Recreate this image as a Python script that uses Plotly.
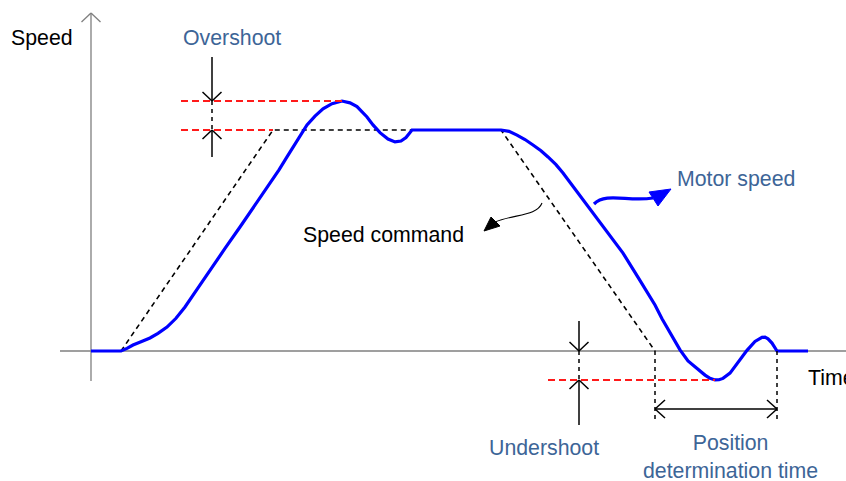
import plotly.graph_objects as go

# ---- data -------------------------------------------------------------
# Motor speed response (time units, speed in % of the commanded speed)
motor_t = [0, 30, 36, 42, 50, 59, 67, 76, 85, 94, 106, 119, 134, 149, 164,
           179, 188, 196, 204, 211, 216, 224, 232, 241, 251, 259, 266, 276,
           282, 289, 297, 304, 310, 315, 318, 321, 410, 418, 426, 434, 442,
           450, 457, 465, 472, 485, 499, 515, 532, 548, 564, 571, 579, 584,
           589, 597, 606, 614, 619, 624, 628, 632, 639, 647, 656, 664, 671,
           674, 677, 681, 686, 717]
motor_v = [0, 0, 1.2, 2.7, 4.2, 5.9, 8.0, 10.8, 14.8, 19.9, 27.9, 36.7, 46.4,
           56.1, 66.0, 76.0, 82.0, 87.8, 93.8, 99.1, 102.3, 106.3, 109.6,
           111.9, 113.1, 112.3, 110.6, 105.9, 102.3, 98.8, 95.9, 94.6, 95.0,
           96.6, 98.3, 100, 100, 99.4, 97.7, 95.7, 93.2, 90.6, 87.8, 84.3,
           80.5, 72.6, 63.8, 54.6, 44.3, 32.6, 20.8, 14.6, 8.1, 4.3, 0.5,
           -4.5, -8.0, -10.9, -12.4, -13.1, -13.0, -12.4, -10.0, -5.4, 0.3,
           4.3, 6.2, 6.3, 5.5, 3.6, 0, 0]

# Speed command (trapezoidal profile)
cmd_t = [30, 182, 410, 564]
cmd_v = [0, 100, 100, 0]

# ---- geometry helpers ---------------------------------------------------
W, H = 846, 481
X0, Y0 = 91, 351          # pixel position of the origin
PX_PER_V = 2.21           # pixels per speed unit
X_RANGE = [-X0, W - X0]
Y_RANGE = [-(H - Y0) / PX_PER_V, Y0 / PX_PER_V]


def dv(pix):
    """Vertical pixel length expressed in speed units."""
    return pix / PX_PER_V


def pt(px, py):
    """Pixel position expressed as a data-space path point."""
    return f"{px - X0},{(Y0 - py) / PX_PER_V}"


peak_v = max(motor_v)
peak_t = motor_t[motor_v.index(peak_v)]
trough_v = min(motor_v)
trough_t = motor_t[motor_v.index(trough_v)]
level = max(cmd_v)
cmd_end = cmd_t[-1]
settle_t = motor_t[-2]

AXIS = "#7f7f7f"
LABEL = "#3d6597"
RED = "#ff1a1a"

shapes = []


def line(x0, y0, x1, y1, color="black", width=1.5, dash="solid",
         layer="above"):
    shapes.append(dict(type="line", x0=x0, y0=y0, x1=x1, y1=y1,
                       line=dict(color=color, width=width, dash=dash),
                       layer=layer))


def chevron_v(x, y, up, color="black", width=1.5, layer="above"):
    back = -dv(9) if up else dv(9)
    line(x - 9.5, y + back, x, y, color, width, layer=layer)
    line(x + 9.5, y + back, x, y, color, width, layer=layer)


def chevron_h(x, y, right, color="black", width=1.5):
    back = -10 if right else 10
    line(x + back, y + dv(9), x, y, color, width)
    line(x + back, y - dv(9), x, y, color, width)


# axes (kept beneath the curves)
line(-31, 0, W - X0, 0, AXIS, 1.5, layer="below")
line(0, -dv(30), 0, dv(Y0 - 13), AXIS, 1.3, layer="below")
chevron_v(0, dv(Y0 - 13), True, AXIS, 1.3, layer="below")

# reference levels
RED_DASH = "7px,4px"
line(90, peak_v, peak_t, peak_v, RED, 1.9, RED_DASH)
line(90, level, cmd_t[1], level, RED, 1.9, RED_DASH)
line(457, trough_v, trough_t, trough_v, RED, 1.9, RED_DASH)

# overshoot marker
os_t = 121
line(os_t, peak_v + dv(44), os_t, peak_v)
chevron_v(os_t, peak_v, False)
line(os_t, peak_v, os_t, level, dash="4px,4px")
line(os_t, level - dv(27), os_t, level)
chevron_v(os_t, level, True)

# undershoot marker
us_t = 488
line(us_t, dv(30), us_t, 0)
chevron_v(us_t, 0, False)
line(us_t, 0, us_t, trough_v, dash="4px,4px")
line(us_t, trough_v - dv(45), us_t, trough_v)
chevron_v(us_t, trough_v, True)

# position determination time
line(cmd_end, 0, cmd_end, -dv(72), dash="4px,4px")
line(settle_t, 0, settle_t, -dv(72), dash="4px,4px")
line(cmd_end, -dv(58), settle_t, -dv(58))
chevron_h(cmd_end, -dv(58), False)
chevron_h(settle_t, -dv(58), True)

# callout arrow for motor speed
shapes.append(dict(type="path",
                   path=f"M {pt(594, 204)} C {pt(606, 192)} {pt(628, 202)} {pt(653, 198)}",
                   line=dict(color="#0000ff", width=3.2)))
shapes.append(dict(type="path",
                   path=f"M {pt(671, 189)} L {pt(649, 192)} L {pt(658, 206)} Z",
                   line=dict(color="#0000ff", width=1), fillcolor="#0000ff"))

# callout arrow for speed command
shapes.append(dict(type="path",
                   path=f"M {pt(542, 203)} C {pt(537, 216)} {pt(515, 214)} {pt(495, 222)}",
                   line=dict(color="black", width=1.1)))
shapes.append(dict(type="path",
                   path=f"M {pt(484, 231)} L {pt(491, 217)} L {pt(500, 226)} Z",
                   line=dict(color="black", width=1), fillcolor="black"))

fig = go.Figure()
fig.add_trace(go.Scatter(x=cmd_t, y=cmd_v, mode="lines",
                         line=dict(color="black", width=1.6, dash="5px,4px"),
                         hoverinfo="skip"))
fig.add_trace(go.Scatter(x=motor_t, y=motor_v, mode="lines",
                         line=dict(color="#0000ff", width=3.2),
                         hoverinfo="skip"))

FONT = "Arial, Liberation Sans, sans-serif"


def label(text, px, py, color, xanchor="center"):
    return dict(text=text, x=px / W, y=1 - py / H, xref="paper", yref="paper",
                xanchor=xanchor, yanchor="middle", showarrow=False,
                font=dict(family=FONT, size=21.3, color=color))


annotations = [
    label("Speed", 9, 38, "black", "left"),
    label("Time", 806, 378, "black", "left"),
    label("Overshoot", 232.5, 38, LABEL),
    label("Motor speed", 736, 179, LABEL),
    label("Speed command", 383, 235, "black"),
    label("Undershoot", 544, 448, LABEL),
    label("Position<br>determination time", 730, 457, LABEL),
]

fig.update_layout(
    width=W, height=H,
    margin=dict(l=0, r=0, t=0, b=0),
    paper_bgcolor="white", plot_bgcolor="white",
    showlegend=False,
    xaxis=dict(range=X_RANGE, visible=False, fixedrange=True),
    yaxis=dict(range=Y_RANGE, visible=False, fixedrange=True),
    shapes=shapes,
    annotations=annotations,
)

fig.write_html("out.html")
